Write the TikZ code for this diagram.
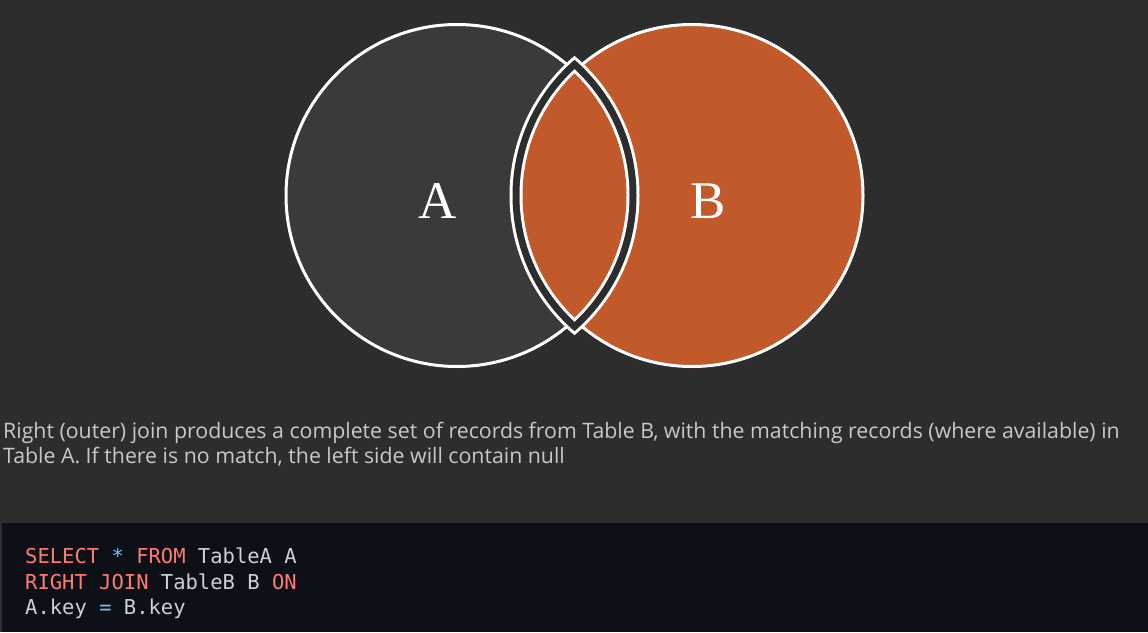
\documentclass[tikz,border=0pt]{standalone}
\usepackage{fontspec}
\usepackage{xcolor}
\newfontfamily\labelfont{Liberation Serif}
\newfontfamily\bodyfont{Open Sans}
\newfontfamily\codefont{DejaVu Sans Mono}

\definecolor{bgdark}{HTML}{2D2D2D}
\definecolor{setgray}{HTML}{3A3A3A}
\definecolor{setorange}{HTML}{C2592A}
\definecolor{bodygray}{HTML}{C8C8C8}
\definecolor{codebg}{HTML}{0D1117}
\definecolor{kwred}{HTML}{FF7B72}
\definecolor{opblue}{HTML}{79C0FF}
\definecolor{idgray}{HTML}{C9D1D9}

\begin{document}
\begin{tikzpicture}[
  x=1pt, y=-1pt,
  setlabel/.style={
    anchor=base, inner sep=0pt, text=white,
    font=\labelfont\fontsize{53}{60}\selectfont
  },
  bodyline/.style={
    anchor=base west, inner sep=0pt, text=bodygray,
    font=\bodyfont\fontsize{21.3}{24}\selectfont
  },
  codeline/.style={
    anchor=base west, inner sep=0pt, text=idgray,
    font=\codefont\fontsize{20.5}{25}\selectfont
  }
]

\fill[bgdark] (0,0) rectangle (1148,632);
\useasboundingbox (0,0) rectangle (1148,632);

% the two sets
\draw[white, line width=3pt, fill=setgray] (457,195.5) circle (171);
\draw[white, line width=3pt, fill=setorange] (692,195.5) circle (171);

% lens, cut out with a dark gap
\begin{scope}
  \clip (457,195.5) circle (182.5);
  \fill[white] (692,195.5) circle (182.5);
\end{scope}
\begin{scope}
  \clip (457,195.5) circle (179.5);
  \fill[bgdark] (692,195.5) circle (179.5);
\end{scope}
\begin{scope}
  \clip (457,195.5) circle (172.5);
  \fill[white] (692,195.5) circle (172.5);
\end{scope}
\begin{scope}
  \clip (457,195.5) circle (169.5);
  \fill[setorange] (692,195.5) circle (169.5);
\end{scope}

\node[setlabel] (labA) at (438,218) {A};
\node[setlabel] (labB) at (708,218) {B};

% caption
\node[bodyline] (line1) at (3,438.5) {Right (outer) join produces a complete set of records from Table B, with the matching records (where available) in};
\node[bodyline] (line2) at (3,463) {Table A. If there is no match, the left side will contain null};

% code block
\fill[codebg] (2,523) rectangle (1148,632);
\node[codeline] (code1) at (25,563.3) {\textcolor{kwred}{SELECT} \textcolor{opblue}{*} \textcolor{kwred}{FROM} TableA A};
\node[codeline] (code2) at (25,589) {\textcolor{kwred}{RIGHT JOIN} TableB B \textcolor{kwred}{ON}};
\node[codeline] (code3) at (25,614.3) {A.key \textcolor{opblue}{=} B.key};
\end{tikzpicture}
\end{document}
